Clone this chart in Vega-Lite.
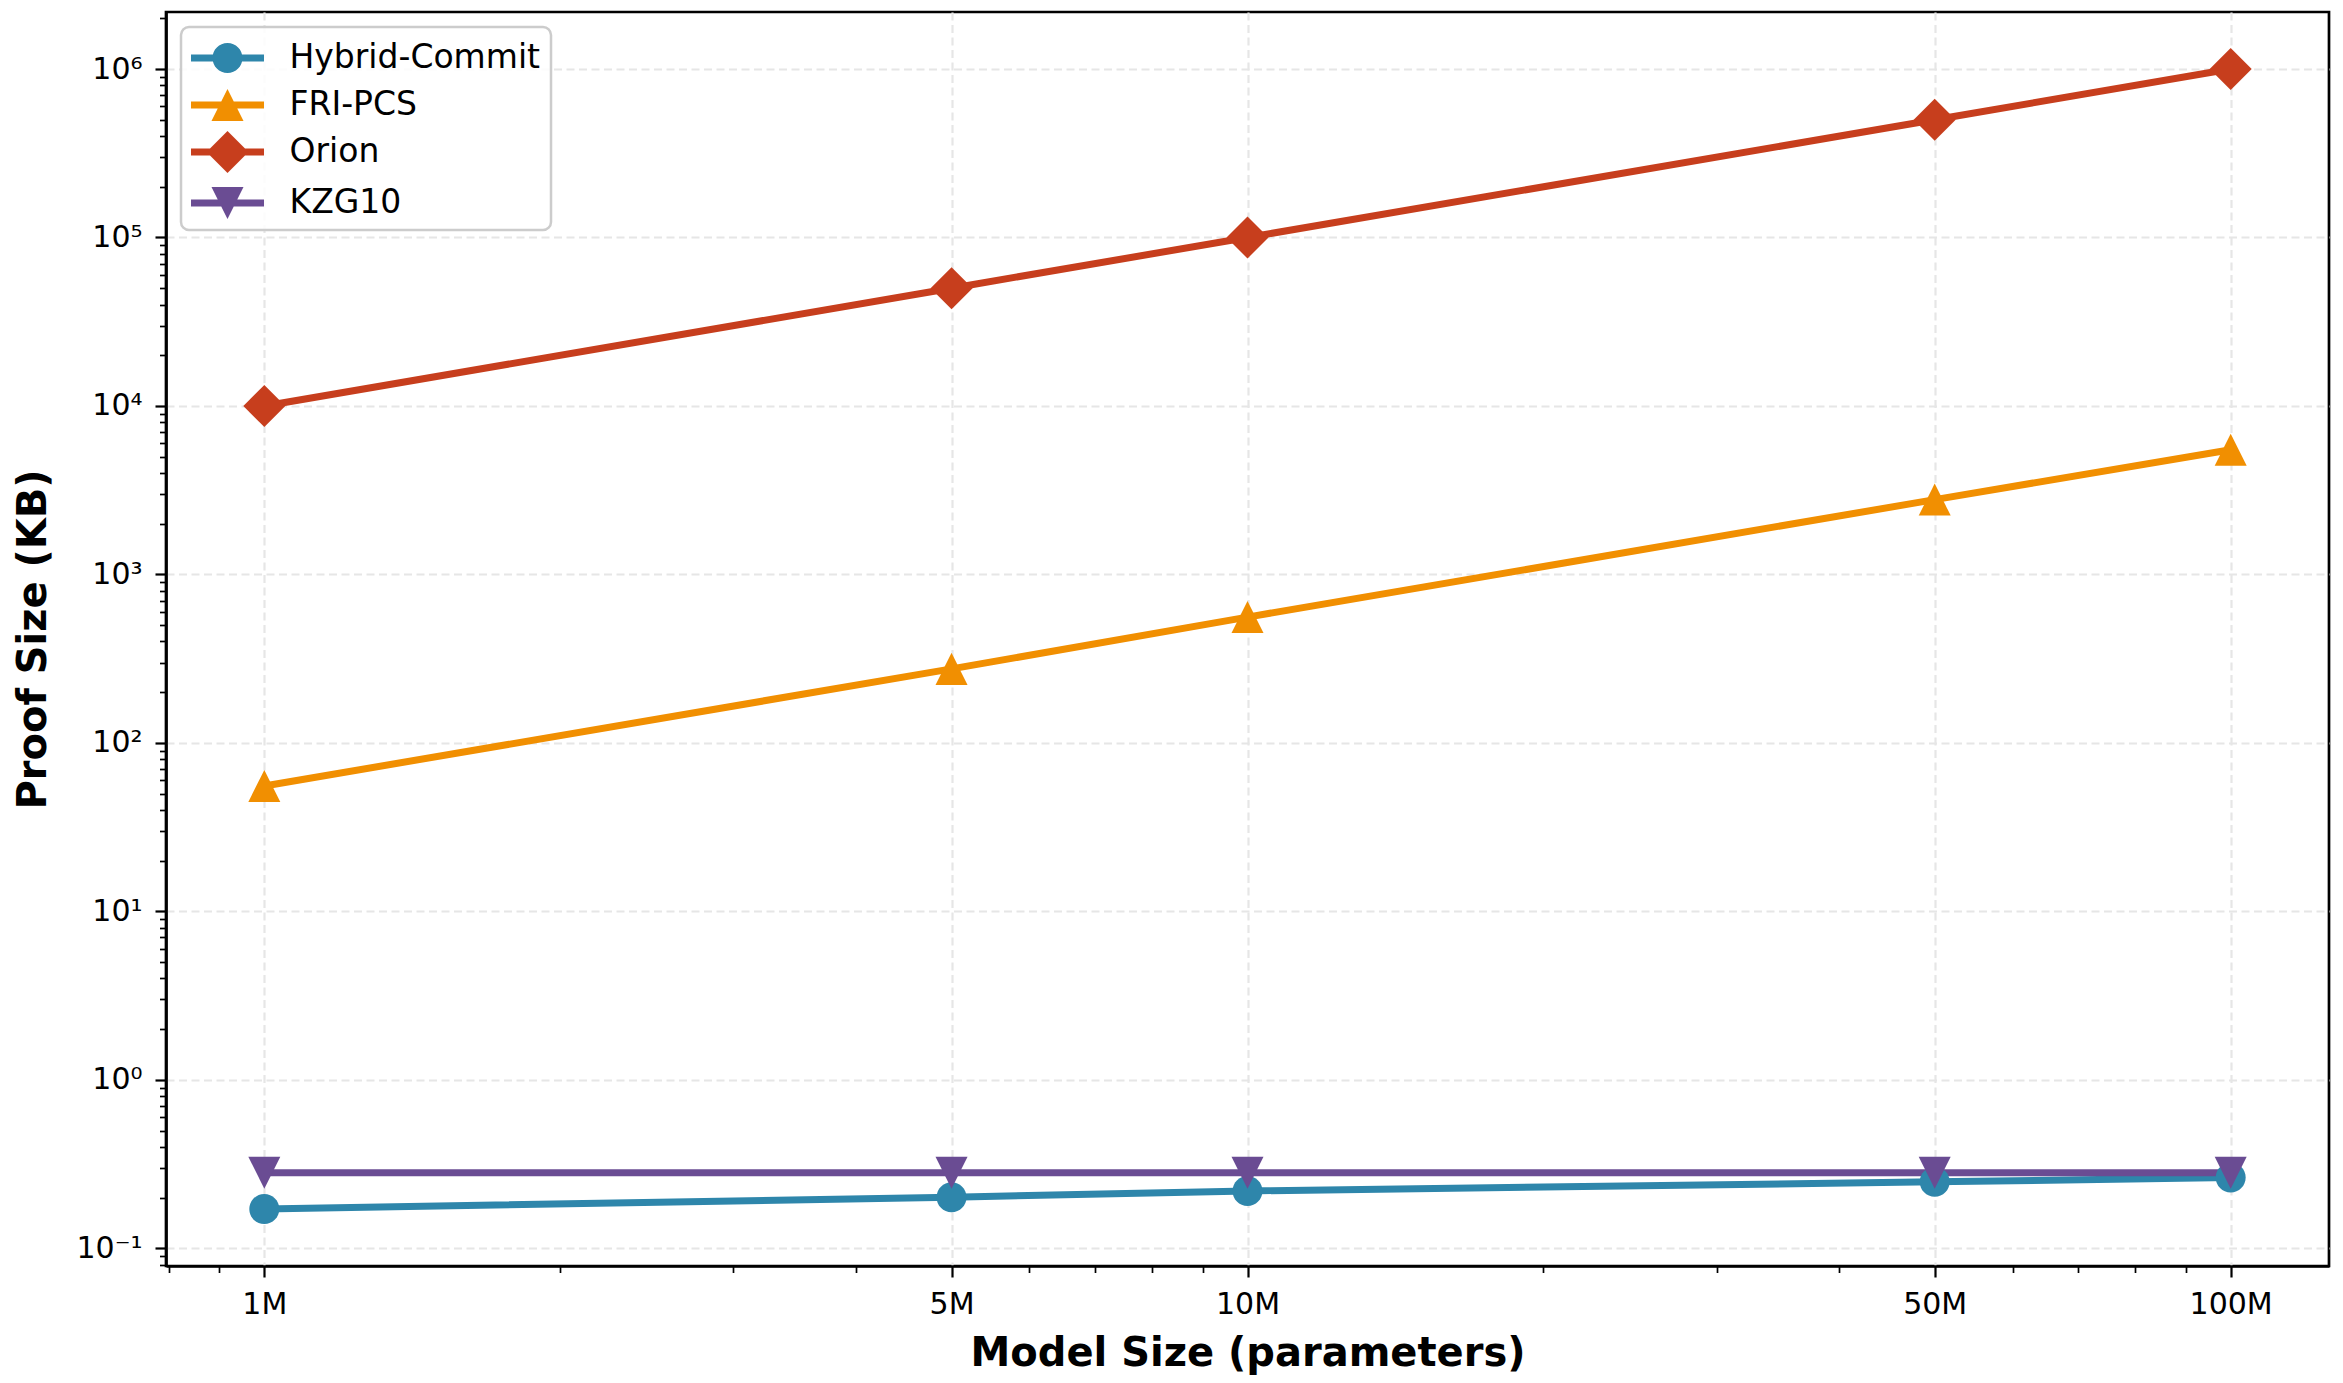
{
  "$schema": "https://vega.github.io/schema/vega-lite/v6.json",
  "width": 2163,
  "height": 1254,
  "autosize": {"type": "none"},
  "padding": {"left": 166, "top": 12, "right": 14, "bottom": 117},
  "background": "white",
  "config": {
    "font": "DejaVu Sans",
    "view": {"stroke": "black", "strokeWidth": 2.7},
    "legend": {
      "strokeColor": "#cccccc",
      "strokeWidth": 2.5,
      "cornerRadius": 8,
      "fillColor": "rgba(255,255,255,0.85)",
      "padding": 10
    }
  },
  "data": {
    "values": [
      {"params": 1000000, "proof": 0.171, "method": "Hybrid-Commit"},
      {"params": 5000000, "proof": 0.201, "method": "Hybrid-Commit"},
      {"params": 10000000, "proof": 0.219, "method": "Hybrid-Commit"},
      {"params": 50000000, "proof": 0.248, "method": "Hybrid-Commit"},
      {"params": 100000000, "proof": 0.263, "method": "Hybrid-Commit"},
      {"params": 1000000, "proof": 55.5, "method": "FRI-PCS"},
      {"params": 5000000, "proof": 275, "method": "FRI-PCS"},
      {"params": 10000000, "proof": 558, "method": "FRI-PCS"},
      {"params": 50000000, "proof": 2780, "method": "FRI-PCS"},
      {"params": 100000000, "proof": 5500, "method": "FRI-PCS"},
      {"params": 1000000, "proof": 10000, "method": "Orion"},
      {"params": 5000000, "proof": 50000, "method": "Orion"},
      {"params": 10000000, "proof": 100000, "method": "Orion"},
      {"params": 50000000, "proof": 500000, "method": "Orion"},
      {"params": 100000000, "proof": 1000000, "method": "Orion"},
      {"params": 1000000, "proof": 0.281, "method": "KZG10"},
      {"params": 5000000, "proof": 0.281, "method": "KZG10"},
      {"params": 10000000, "proof": 0.281, "method": "KZG10"},
      {"params": 50000000, "proof": 0.281, "method": "KZG10"},
      {"params": 100000000, "proof": 0.281, "method": "KZG10"}
    ]
  },
  "encoding": {
    "x": {
      "field": "params",
      "type": "quantitative",
      "scale": {"type": "log", "domain": [794328, 125892541], "nice": false, "zero": false},
      "axis": {
        "values": [800000, 900000, 1000000, 2000000, 3000000, 4000000, 5000000, 6000000, 7000000, 8000000, 9000000, 10000000, 20000000, 30000000, 40000000, 50000000, 60000000, 70000000, 80000000, 90000000, 100000000],
        "labelExpr": "indexof([1000000,5000000,10000000,50000000,100000000], datum.value) >= 0 ? (datum.value/1000000) + 'M' : ''",
        "title": "Model Size (parameters)",
        "titleFont": "DejaVu Sans",
        "titleFontSize": 40,
        "titleFontWeight": "bold",
        "titleColor": "black",
        "titlePadding": 14,
        "labelFont": "DejaVu Sans",
        "labelFontSize": 30,
        "labelColor": "black",
        "labelPadding": 12,
        "labelOverlap": false,
        "labelBound": false,
        "labelFlush": false,
        "tickColor": "black",
        "tickSize": {"condition": {"test": "indexof([1000000,5000000,10000000,50000000,100000000], datum.value) >= 0", "value": 11}, "value": 6.5},
        "tickWidth": {"condition": {"test": "indexof([1000000,5000000,10000000,50000000,100000000], datum.value) >= 0", "value": 2.2}, "value": 1.7},
        "grid": true,
        "gridColor": "#e6e6e6",
        "gridDash": [8, 4.5],
        "gridWidth": 2.2,
        "gridOpacity": {"condition": {"test": "indexof([1000000,5000000,10000000,50000000,100000000], datum.value) >= 0", "value": 1}, "value": 0},
        "domainColor": "black",
        "domainWidth": 2.7
      }
    },
    "y": {
      "field": "proof",
      "type": "quantitative",
      "scale": {"type": "log", "domain": [0.0785, 2180000], "nice": false, "zero": false},
      "axis": {
        "values": [0.08, 0.09, 0.1, 0.2, 0.3, 0.4, 0.5, 0.6, 0.7, 0.8, 0.9, 1, 2, 3, 4, 5, 6, 7, 8, 9, 10, 20, 30, 40, 50, 60, 70, 80, 90, 100, 200, 300, 400, 500, 600, 700, 800, 900, 1000, 2000, 3000, 4000, 5000, 6000, 7000, 8000, 9000, 10000, 20000, 30000, 40000, 50000, 60000, 70000, 80000, 90000, 100000, 200000, 300000, 400000, 500000, 600000, 700000, 800000, 900000, 1000000, 2000000],
        "labelExpr": "abs(log(datum.value)/LN10 - round(log(datum.value)/LN10)) < 0.001 ? '10' + (round(log(datum.value)/LN10) < 0 ? '⁻' : '') + substring('⁰¹²³⁴⁵⁶⁷⁸⁹', abs(round(log(datum.value)/LN10)), abs(round(log(datum.value)/LN10)) + 1) : ''",
        "title": "Proof Size (KB)",
        "titleFont": "DejaVu Sans",
        "titleFontSize": 40,
        "titleFontWeight": "bold",
        "titleColor": "black",
        "titlePadding": 22,
        "labelFont": "DejaVu Sans",
        "labelFontSize": 30,
        "labelColor": "black",
        "labelPadding": 13,
        "labelOverlap": false,
        "labelBound": false,
        "labelFlush": false,
        "tickColor": "black",
        "tickSize": {"condition": {"test": "abs(log(datum.value)/LN10 - round(log(datum.value)/LN10)) < 0.001", "value": 11}, "value": 6.5},
        "tickWidth": {"condition": {"test": "abs(log(datum.value)/LN10 - round(log(datum.value)/LN10)) < 0.001", "value": 2.2}, "value": 1.7},
        "grid": true,
        "gridColor": "#e6e6e6",
        "gridDash": [8, 4.5],
        "gridWidth": 2.2,
        "gridOpacity": {"condition": {"test": "abs(log(datum.value)/LN10 - round(log(datum.value)/LN10)) < 0.001", "value": 1}, "value": 0},
        "domainColor": "black",
        "domainWidth": 2.7
      }
    }
  },
  "layer": [
    {
      "mark": {"type": "line", "strokeWidth": 7},
      "encoding": {
        "color": {
          "field": "method",
          "type": "nominal",
          "scale": {"domain": ["Hybrid-Commit", "FRI-PCS", "Orion", "KZG10"], "range": ["#2E86AB", "#F18F01", "#C73E1D", "#6A4C93"]},
          "legend": null
        }
      }
    },
    {
      "mark": {"type": "point", "filled": true, "opacity": 1, "size": 1764, "strokeWidth": 0},
      "encoding": {
        "color": {
          "field": "method",
          "type": "nominal",
          "scale": {"domain": ["Hybrid-Commit", "FRI-PCS", "Orion", "KZG10"], "range": ["#2E86AB", "#F18F01", "#C73E1D", "#6A4C93"]},
          "legend": null
        },
        "shape": {
          "field": "method",
          "type": "nominal",
          "scale": {
            "domain": ["Hybrid-Commit", "FRI-PCS", "Orion", "KZG10"],
            "range": [
              "M0.714,0A0.714,0.714,0,1,1,-0.714,0A0.714,0.714,0,1,1,0.714,0Z",
              "M0,-0.762L0.762,0.762L-0.762,0.762Z",
              "M0,-1L1,0L0,1L-1,0Z",
              "M-0.762,-0.762L0.762,-0.762L0,0.762Z"
            ]
          },
          "legend": null
        }
      }
    },
    {
      "mark": {"type": "point", "filled": true, "opacity": 0, "size": 1764, "strokeWidth": 0},
      "encoding": {
        "fill": {
          "field": "method",
          "type": "nominal",
          "scale": {"domain": ["Hybrid-Commit", "FRI-PCS", "Orion", "KZG10"], "range": ["#2E86AB", "#F18F01", "#C73E1D", "#6A4C93"]},
          "legend": {
            "title": null, "orient": "top-left", "offset": 15,
            "labelFont": "DejaVu Sans", "labelFontSize": 33, "labelColor": "black", "labelLimit": 0,
            "symbolSize": 1764, "symbolOpacity": 1, "symbolStrokeWidth": 0, "symbolOffset": 15.5, "labelOffset": 41, "rowPadding": 9
          }
        },
        "shape": {
          "field": "method",
          "type": "nominal",
          "scale": {
            "domain": ["Hybrid-Commit", "FRI-PCS", "Orion", "KZG10"],
            "range": [
              "M-1.738,-0.167L1.738,-0.167L1.738,0.167L-1.738,0.167Z M0.714,0A0.714,0.714,0,1,1,-0.714,0A0.714,0.714,0,1,1,0.714,0Z",
              "M-1.738,-0.167L1.738,-0.167L1.738,0.167L-1.738,0.167Z M0,-0.762L0.762,0.762L-0.762,0.762Z",
              "M-1.738,-0.167L1.738,-0.167L1.738,0.167L-1.738,0.167Z M0,-1L1,0L0,1L-1,0Z",
              "M-1.738,-0.167L1.738,-0.167L1.738,0.167L-1.738,0.167Z M-0.762,-0.762L0.762,-0.762L0,0.762Z"
            ]
          },
          "legend": {
            "title": null, "orient": "top-left", "offset": 15,
            "labelFont": "DejaVu Sans", "labelFontSize": 33, "labelColor": "black", "labelLimit": 0,
            "symbolSize": 1764, "symbolOpacity": 1, "symbolStrokeWidth": 0, "symbolOffset": 15.5, "labelOffset": 41, "rowPadding": 9
          }
        }
      }
    }
  ],
  "resolve": {"scale": {"shape": "independent", "fill": "independent"}}
}
